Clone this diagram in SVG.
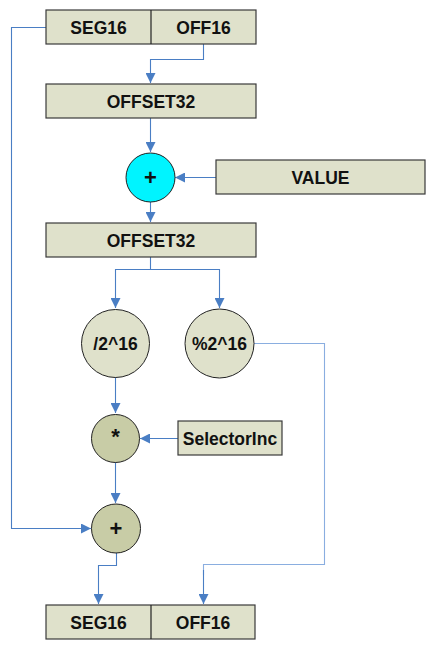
<svg xmlns="http://www.w3.org/2000/svg" width="432" height="649" viewBox="0 0 432 649">
<style>
.box{fill:#dfe1cb;stroke:#3a3a3a;stroke-width:1.2}
.c1{fill:#dfe1cb;stroke:#222;stroke-width:1}
.c2{fill:#c8cca6;stroke:#222;stroke-width:1}
.cy{fill:#00f4ff;stroke:#222;stroke-width:1}
text{font-family:"Liberation Sans",Arial,sans-serif;font-weight:bold;font-size:17.5px;fill:#111;text-anchor:middle}
.op{font-size:22px}
.ln{fill:none;stroke:#4a7ec4;stroke-width:1.1}
.lt{fill:none;stroke:#8aaee0;stroke-width:1.1}
</style>
<defs>
<marker id="ah" viewBox="0 0 10 10" refX="10" refY="5" markerWidth="10" markerHeight="10" markerUnits="userSpaceOnUse" orient="auto">
<path d="M0,0 L10,5 L0,10 z" fill="#4a7ec4"/>
</marker>
</defs>
<rect width="432" height="649" fill="#fff"/>
<g id="connectors">
<path class="ln" d="M203.5,44 V59.5 H150.5 V83" marker-end="url(#ah)"/>
<path class="ln" d="M150.5,118 V152" marker-end="url(#ah)"/>
<path class="ln" d="M216,177.5 H175" marker-end="url(#ah)"/>
<path class="ln" d="M150.5,202 V222" marker-end="url(#ah)"/>
<path class="ln" d="M150.5,257 V269.5 H115.5 V308" marker-end="url(#ah)"/>
<path class="ln" d="M150.5,269.5 H219.5 V308" marker-end="url(#ah)"/>
<path class="lt" d="M254,343.5 H324.5 V564.5 H203.5 V575"/>
<path class="ln" d="M203.5,570 V604" marker-end="url(#ah)"/>
<path class="ln" d="M115.5,377 V413" marker-end="url(#ah)"/>
<path class="ln" d="M178,438.5 H140" marker-end="url(#ah)"/>
<path class="ln" d="M115.5,462 V503" marker-end="url(#ah)"/>
<path class="ln" d="M46,27.5 H11.5 V528.5 H91" marker-end="url(#ah)"/>
<path class="ln" d="M116.5,553 V565.5 H98.5 V604" marker-end="url(#ah)"/>
</g>
<g id="top-seg-off">
<rect class="box" x="46" y="10" width="210" height="34"/>
<line x1="151" y1="10" x2="151" y2="44" stroke="#222" stroke-width="1.2"/>
<text x="98.5" y="33.5">SEG16</text>
<text x="203.5" y="33.5">OFF16</text>
</g>
<g id="offset32-a">
<rect class="box" x="46" y="84" width="210" height="34"/>
<text x="151" y="107.5">OFFSET32</text>
</g>
<g id="add-cyan">
<circle class="cy" cx="150.5" cy="177.5" r="24.5"/>
<text class="op" x="150.5" y="185">+</text>
</g>
<g id="value">
<rect class="box" x="216" y="160" width="209" height="34"/>
<text x="320.5" y="183.5">VALUE</text>
</g>
<g id="offset32-b">
<rect class="box" x="46" y="223" width="210" height="34"/>
<text x="151" y="246.5">OFFSET32</text>
</g>
<g id="div">
<circle class="c1" cx="115.5" cy="343.5" r="34"/>
<text x="115.5" y="350">/2^16</text>
</g>
<g id="mod">
<circle class="c1" cx="219.5" cy="343.5" r="34.5"/>
<text x="219.5" y="350">%2^16</text>
</g>
<g id="mul">
<circle class="c2" cx="115.5" cy="438.5" r="24"/>
<text class="op" x="115.5" y="444">*</text>
</g>
<g id="selectorinc">
<rect class="box" x="178" y="421" width="104" height="34"/>
<text x="230" y="444.5">SelectorInc</text>
</g>
<g id="add">
<circle class="c2" cx="116" cy="528.5" r="24.5"/>
<text class="op" x="116" y="536">+</text>
</g>
<g id="bottom-seg-off">
<rect class="box" x="46" y="605" width="209" height="34"/>
<line x1="151" y1="605" x2="151" y2="639" stroke="#222" stroke-width="1.2"/>
<text x="98.5" y="628.5">SEG16</text>
<text x="203" y="628.5">OFF16</text>
</g>
</svg>
